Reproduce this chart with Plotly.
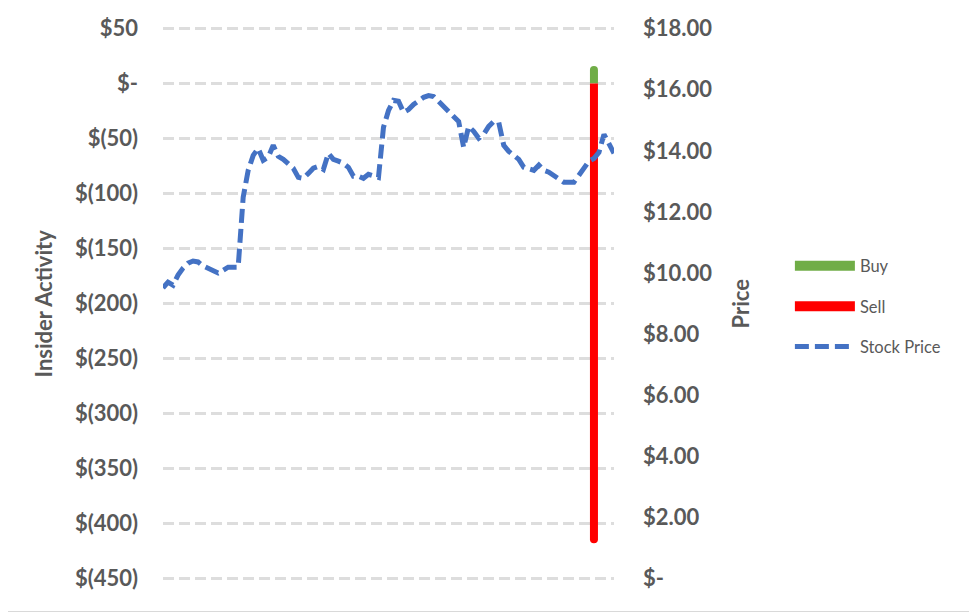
import plotly.graph_objects as go

# -------- Data --------
price = [
    9.51, 9.70, 9.60, 9.93, 10.16, 10.32, 10.39, 10.36, 10.23, 10.16,
    10.09, 10.00, 10.09, 10.19, 10.19, 10.19, 12.48, 13.36, 13.85, 14.08,
    13.69, 13.79, 14.18, 13.82, 13.72, 13.59, 13.43, 13.13, 13.10, 13.26,
    13.43, 13.49, 13.39, 13.92, 13.72, 13.66, 13.59, 13.46, 13.17, 13.17,
    13.10, 13.23, 13.20, 13.13, 14.77, 15.32, 15.65, 15.62, 15.26, 15.35,
    15.52, 15.65, 15.75, 15.81, 15.78, 15.62, 15.45, 15.32, 15.16, 14.96,
    14.11, 14.80, 14.64, 14.41, 14.54, 14.80, 14.96, 14.93, 14.18, 13.98,
    13.85, 13.72, 13.46, 13.39, 13.36, 13.53, 13.36, 13.30, 13.20, 13.07,
    12.97, 12.97, 12.97, 13.20, 13.46, 13.66, 13.75, 13.95, 14.54, 14.24,
    13.92,
]
days = list(range(len(price)))

trade_days = [86]
buy = [16]
sell = [-418]

left_ticks = [50, 0, -50, -100, -150, -200, -250, -300, -350, -400, -450]
right_ticks = [18, 16, 14, 12, 10, 8, 6, 4, 2, 0]


def money(v):
    if v == 0:
        return "$-"
    return f"$({abs(v)})" if v < 0 else f"${v}"


def money2(v):
    return "$-" if v == 0 else f"${v:.2f}"


GRAY = "#595959"
FONT = "Lato"
PAD = 1.5  # range padding so plotly keeps the gridlines at the edges

fig = go.Figure()

# Insider trades as thin bars on the left axis
fig.add_trace(go.Bar(
    x=trade_days, y=buy, name="Buy", width=1.6,
    marker=dict(color="#70AD47", cornerradius=4, line_width=0),
    showlegend=False,
))
fig.add_trace(go.Bar(
    x=trade_days, y=sell, name="Sell", width=1.6,
    marker=dict(color="#FF0000", cornerradius=4, line_width=0),
    showlegend=False,
))
# Stock price on the right axis
fig.add_trace(go.Scatter(
    x=days, y=price, name="Stock Price", yaxis="y2", mode="lines",
    line=dict(color="#4472C4", width=5, dash="14px,6px"),
    legendgroup="c", legendrank=3,
))

# legend-only entries drawn as thick strokes
fig.add_trace(go.Scatter(
    x=[None], y=[None], name="Buy", mode="lines",
    line=dict(color="#70AD47", width=16), legendgroup="a", legendrank=1,
))
fig.add_trace(go.Scatter(
    x=[None], y=[None], name="Sell", mode="lines",
    line=dict(color="#FF0000", width=16), legendgroup="b", legendrank=2,
))

# page body adds an 8px offset, so the figure is 8px smaller and margins shifted
fig.update_layout(
    width=969, height=604,
    margin=dict(l=155, r=363, t=18.5, b=31.5),
    plot_bgcolor="white", paper_bgcolor="white",
    barmode="overlay",
    font=dict(family=FONT, color=GRAY),
    xaxis=dict(range=[0, 90], visible=False, showgrid=False, zeroline=False),
    yaxis=dict(
        range=[-450 - PAD, 50 + PAD], automargin=False,
        tickvals=left_ticks, ticktext=[money(v) for v in left_ticks],
        tickfont=dict(size=22, weight="bold", color=GRAY),
        ticklabelstandoff=24,
        showgrid=True, gridcolor="#DDDDDD", gridwidth=3, griddash="11px,5px",
        zeroline=False, showline=False,
    ),
    yaxis2=dict(
        range=[-PAD * 18 / 500, 18 + PAD * 18 / 500], automargin=False,
        overlaying="y", side="right",
        tickvals=right_ticks, ticktext=[money2(v) for v in right_ticks],
        tickfont=dict(size=22, weight="bold", color=GRAY),
        ticklabelstandoff=28,
        showgrid=False, zeroline=False, showline=False,
    ),
    legend=dict(
        x=1.39, y=0.5995, xanchor="left", yanchor="top",
        font=dict(size=16.5, color=GRAY, family=FONT),
        itemwidth=60, tracegroupgap=16, traceorder="grouped",
        bgcolor="rgba(0,0,0,0)",
    ),
    annotations=[
        dict(text="Insider Activity", x=-0.2639, y=0.5, xref="paper", yref="paper",
             textangle=-90, showarrow=False, xanchor="center", yanchor="middle",
             font=dict(size=22, weight="bold", color=GRAY)),
        dict(text="Price", x=1.2794, y=0.5, xref="paper", yref="paper",
             textangle=-90, showarrow=False, xanchor="center", yanchor="middle",
             font=dict(size=22, weight="bold", color=GRAY)),
    ],
    shapes=[
        dict(type="line", xref="paper", yref="paper",
             x0=1.8, x1=1.8, y0=-0.059, y1=1.04,
             line=dict(color="#D9D9D9", width=1.5), layer="below"),
        dict(type="line", xref="paper", yref="paper",
             x0=-0.35, x1=1.8, y0=-0.0575, y1=-0.0575,
             line=dict(color="#D9D9D9", width=1.5), layer="below"),
    ],
)

fig.write_html("out.html")
